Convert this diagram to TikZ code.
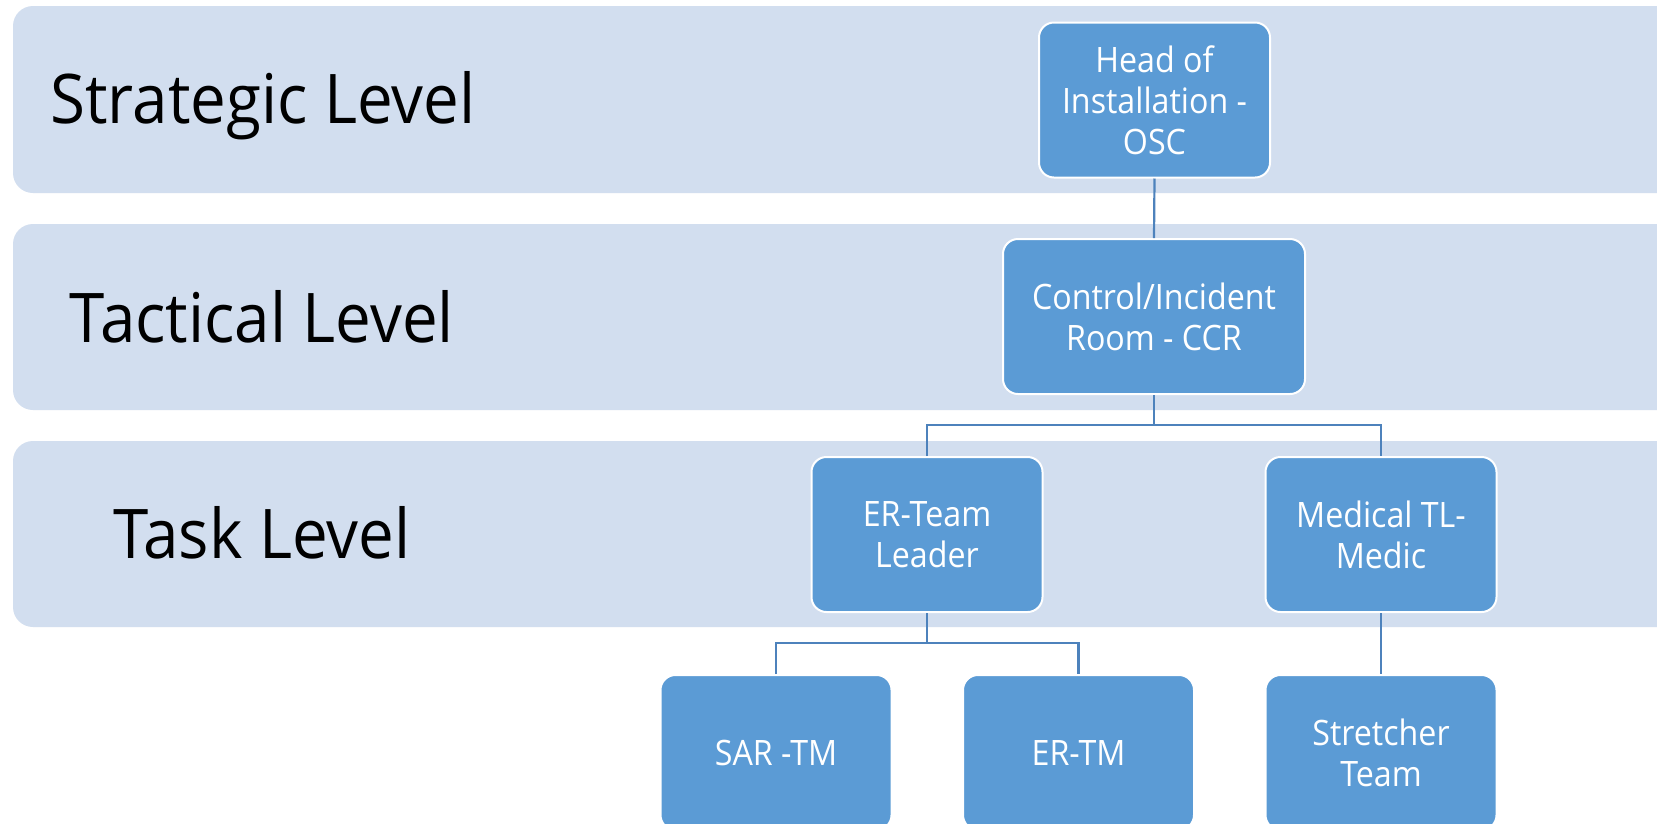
\documentclass[tikz,border=0pt]{standalone}
\usepackage{fontspec}
\newfontfamily\levelfam{Open Sans}[FakeStretch=0.93]
\newfontfamily\rolefam{Open Sans}[FakeStretch=0.92]
\newcommand\levelfont{\levelfam\fontsize{68.5}{80}\selectfont}
\newcommand\rolefont{\rolefam\fontsize{35}{41}\selectfont}
\definecolor{bandblue}{HTML}{D2DEEF}
\definecolor{roleblue}{HTML}{5B9BD5}
\definecolor{linkblue}{HTML}{4D82BC}
\tikzset{
  band/.style={fill=bandblue, rounded corners=20pt},
  levellabel/.style={anchor=base, inner sep=0pt, font=\levelfont, text=black},
  role/.style={fill=roleblue, draw=white, line width=2pt, rounded corners=15pt,
    text=white, align=center, inner sep=0pt, font=\rolefont,
    minimum width=231pt, minimum height=155pt},
  link/.style={draw=linkblue, line width=2.2pt}
}
\begin{document}
\begin{tikzpicture}[x=1pt, y=-1pt]
  \useasboundingbox (0,0) rectangle (1657,823);
  \clip (0,0) rectangle (1657,823);
  \fill[white] (0,0) rectangle (1657,823);

  % level bands, running off the right edge
  \fill[band] (13,6)   rectangle (1700,193);
  \fill[band] (13,224) rectangle (1700,410);
  \fill[band] (13,441) rectangle (1700,627);

  \node[levellabel] (lstrat) at (263,123) {Strategic Level};
  \node[levellabel] (ltact)  at (262,342) {Tactical Level};
  \node[levellabel] (ltask)  at (262,558) {Task Level};

  % roles
  \node[role] (osc) at (1154.5,100) {Head of\\Installation -\\OSC};
  \node[role, minimum width=302pt] (ccr) at (1154,316.5) {Control/Incident\\Room - CCR};
  \node[role] (ertl) at (927,534.5) {ER-Team\\Leader};
  \node[role] (med)  at (1381,534.5) {Medical TL-\\Medic};
  \node[role] (sar)  at (776,752.5) {SAR -TM};
  \node[role] (ertm) at (1078.5,752.5) {ER-TM};
  \node[role] (str)  at (1381,752.5) {Stretcher\\Team};

  % reporting lines
  \coordinate (busA) at (1154,425);
  \coordinate (busB) at (927,643);
  \draw[link] (osc.south) -- (ccr.north);
  \draw[link] (ccr.south) -- (busA);
  \draw[link] (ertl.north) |- (busA) -| (med.north);
  \draw[link] (ertl.south) -- (busB);
  \draw[link] (sar.north) |- (busB) -| (ertm.north);
  \draw[link] (med.south) -- (str.north);
\end{tikzpicture}
\end{document}
